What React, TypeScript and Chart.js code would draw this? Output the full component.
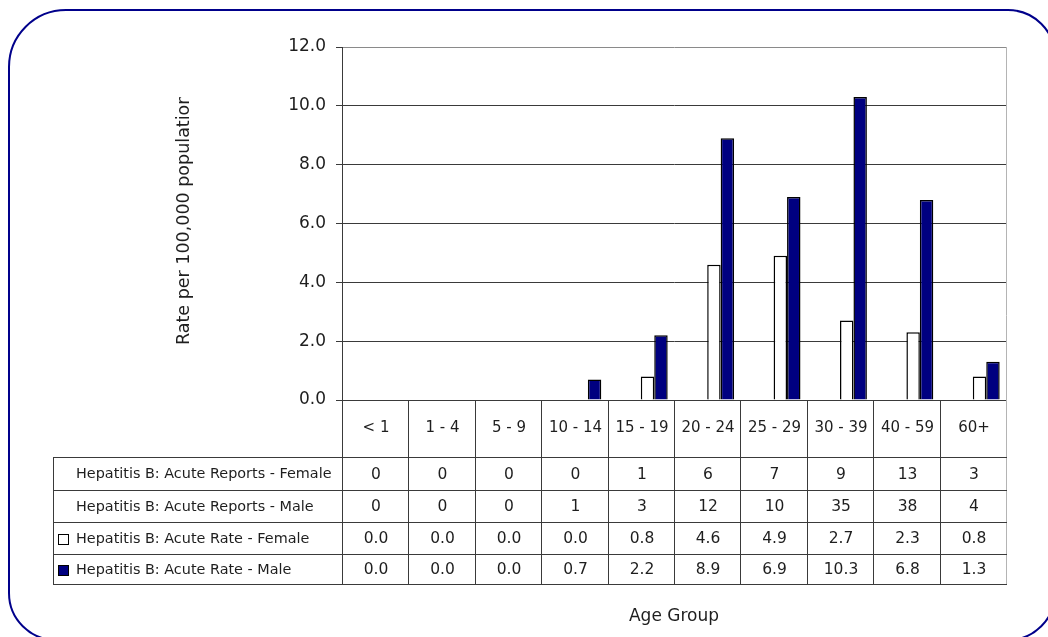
import React, { useEffect, useRef } from "react";
import { Chart, registerables } from "chart.js";

Chart.register(...registerables);

const ageGroups = ["< 1", "1 - 4", "5 - 9", "10 - 14", "15 - 19", "20 - 24", "25 - 29", "30 - 39", "40 - 59", "60+"];
const reportsFemale = [0, 0, 0, 0, 1, 6, 7, 9, 13, 3];
const reportsMale = [0, 0, 0, 1, 3, 12, 10, 35, 38, 4];
const rateFemale = [0.0, 0.0, 0.0, 0.0, 0.8, 4.6, 4.9, 2.7, 2.3, 0.8];
const rateMale = [0.0, 0.0, 0.0, 0.7, 2.2, 8.9, 6.9, 10.3, 6.8, 1.3];

const seriesNames = [
  "Hepatitis B: Acute Reports - Female",
  "Hepatitis B: Acute Reports - Male",
  "Hepatitis B: Acute Rate - Female",
  "Hepatitis B: Acute Rate - Male",
];

const FONT = "'DejaVu Sans', sans-serif";
const NAVY = "#000080";
const LINE = "#3a3a3a";
const TEXT = "#1e1e1e";

// Data table under the plot plus axis titles
const tablePlugin = {
  id: "dataTable",
  afterDraw(chart: any) {
    const { ctx, chartArea } = chart;
    const x = chart.scales.x;
    const step = x.getPixelForValue(1) - x.getPixelForValue(0);
    const edges: number[] = [];
    for (let i = 0; i <= ageGroups.length; i++) {
      edges.push(Math.round(x.getPixelForValue(i) - step / 2));
    }
    const top = Math.round(chartArea.bottom);
    const rowEdges = [top, 457, 490, 522, 554, 584];
    const labelLeft = 53;

    ctx.save();
    // right border of plot
    ctx.strokeStyle = "#b4b4b4";
    ctx.lineWidth = 1;
    ctx.beginPath();
    ctx.moveTo(Math.round(chartArea.right) + 0.5, chartArea.top);
    ctx.lineTo(Math.round(chartArea.right) + 0.5, rowEdges[5]);
    ctx.stroke();

    ctx.strokeStyle = LINE;
    ctx.beginPath();
    // vertical lines
    edges.forEach((ex, i) => {
      if (i === edges.length - 1) return;
      ctx.moveTo(ex + 0.5, top);
      ctx.lineTo(ex + 0.5, rowEdges[5]);
    });
    ctx.moveTo(labelLeft + 0.5, rowEdges[1]);
    ctx.lineTo(labelLeft + 0.5, rowEdges[5]);
    // horizontal lines
    for (let r = 1; r < rowEdges.length; r++) {
      ctx.moveTo(labelLeft, rowEdges[r] + 0.5);
      ctx.lineTo(edges[edges.length - 1] + 1, rowEdges[r] + 0.5);
    }
    ctx.stroke();

    ctx.fillStyle = TEXT;
    ctx.font = `15px ${FONT}`;
    ctx.textAlign = "center";
    ctx.textBaseline = "middle";
    ageGroups.forEach((g, i) => {
      ctx.fillText(g, (edges[i] + edges[i + 1]) / 2 + 1, (rowEdges[0] + rowEdges[1]) / 2);
    });
    const rows = [
      reportsFemale.map((v) => String(v)),
      reportsMale.map((v) => String(v)),
      rateFemale.map((v) => v.toFixed(1)),
      rateMale.map((v) => v.toFixed(1)),
    ];
    ctx.font = `15.5px ${FONT}`;
    rows.forEach((vals, r) => {
      const cy = (rowEdges[r + 1] + rowEdges[r + 2]) / 2 + 1;
      vals.forEach((v, i) => {
        ctx.fillText(v, (edges[i] + edges[i + 1]) / 2 + 1, cy);
      });
    });

    // row labels with legend keys
    ctx.textAlign = "left";
    ctx.font = `14.4px ${FONT}`;
    seriesNames.forEach((name, r) => {
      const cy = (rowEdges[r + 1] + rowEdges[r + 2]) / 2 + 1;
      ctx.fillStyle = TEXT;
      ctx.fillText(name, 76, cy);
      if (r >= 2) {
        ctx.fillStyle = r === 2 ? "#ffffff" : NAVY;
        ctx.fillRect(58, cy - 5, 11, 11);
        ctx.strokeStyle = "#000";
        ctx.strokeRect(58.5, cy - 4.5, 10, 10);
      }
    });

    // x-axis title
    ctx.fillStyle = TEXT;
    ctx.textAlign = "center";
    ctx.font = `17px ${FONT}`;
    ctx.fillText("Age Group", (chartArea.left + chartArea.right) / 2, 617);

    // y-axis title, cut off by the top of its box
    ctx.save();
    ctx.beginPath();
    ctx.rect(0, 97, 340, 400);
    ctx.clip();
    ctx.translate(184, 345);
    ctx.rotate(-Math.PI / 2);
    ctx.textAlign = "left";
    ctx.textBaseline = "middle";
    ctx.font = `17.5px ${FONT}`;
    ctx.fillText("Rate per 100,000 population", 0, 0);
    ctx.restore();

    ctx.restore();
  },
};

export default function App() {
  const canvasRef = useRef<HTMLCanvasElement | null>(null);

  useEffect(() => {
    const canvas = canvasRef.current;
    if (!canvas) return;
    const chart = new Chart(canvas, {
      type: "bar",
      data: {
        labels: ageGroups,
        datasets: [
          {
            label: seriesNames[0],
            data: reportsFemale,
            yAxisID: "yReports",
            backgroundColor: "rgba(0,0,0,0)",
            borderWidth: 0,
          },
          {
            label: seriesNames[1],
            data: reportsMale,
            yAxisID: "yReports",
            backgroundColor: "rgba(0,0,0,0)",
            borderWidth: 0,
          },
          {
            label: seriesNames[2],
            data: rateFemale,
            yAxisID: "y",
            backgroundColor: "#ffffff",
            borderColor: "#000000",
            borderWidth: 1.5,
          },
          {
            label: seriesNames[3],
            data: rateMale,
            yAxisID: "y",
            backgroundColor: NAVY,
            borderColor: "#000000",
            borderWidth: 1.5,
          },
        ],
      },
      options: {
        responsive: false,
        animation: false,
        devicePixelRatio: 1,
        layout: { padding: { left: 262, top: 47, right: 42, bottom: 237 } },
        datasets: { bar: { categoryPercentage: 0.81, barPercentage: 1 } },
        plugins: { legend: { display: false }, tooltip: { enabled: false } },
        scales: {
          x: { display: false, grid: { display: false } },
          y: {
            min: 0,
            max: 12,
            afterFit(scale: any) {
              scale.width = 80;
            },
            ticks: {
              stepSize: 2,
              padding: 10,
              color: TEXT,
              font: { family: FONT, size: 17 },
              callback: (v: any) => Number(v).toFixed(1),
            },
            grid: {
              color: (c: any) => (c.tick && c.tick.value === 12 ? "#8a8a8a" : LINE),
              tickLength: 6,
              tickColor: LINE,
            },
            border: { display: true, color: LINE, width: 1 },
          },
          yReports: { display: false, min: 0, max: 40 },
        },
      },
      plugins: [tablePlugin],
    });
    return () => chart.destroy();
  }, []);

  return (
    <div style={{ position: "fixed", left: 0, top: 0, width: 1048, height: 637, background: "#fff", overflow: "hidden" }}>
      <div
        style={{
          position: "absolute",
          left: 8,
          top: 9,
          width: 1048,
          height: 632,
          boxSizing: "border-box",
          border: "2px solid #00008b",
          borderRadius: "58px 48px 48px 48px",
        }}
      />
      <canvas ref={canvasRef} width={1048} height={637} style={{ position: "absolute", left: 0, top: 0 }} />
    </div>
  );
}
